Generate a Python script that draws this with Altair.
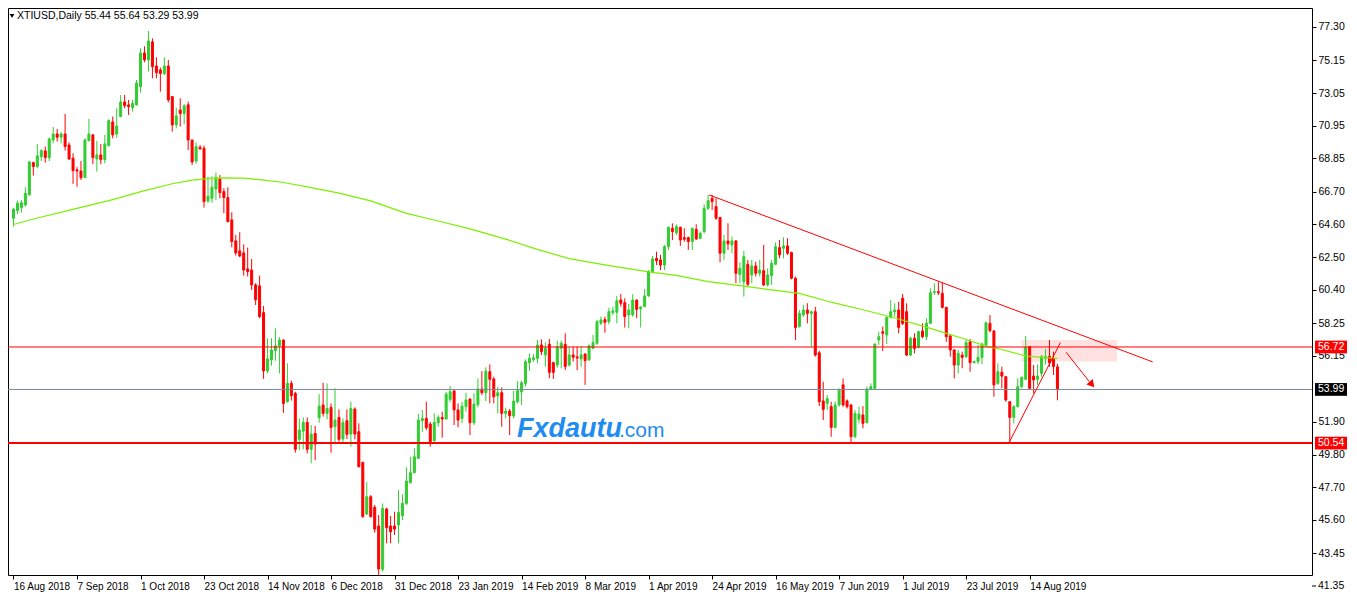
import altair as alt
import pandas as pd

# ---------------- data ----------------
opens = [65.00,65.49,65.68,65.85,66.50,68.58,68.32,68.96,69.33,68.90,70.03,70.42,70.21,70.42,69.71,68.86,68.11,68.04,67.61,69.99,
         70.36,68.81,69.07,68.77,69.67,71.19,70.42,71.54,72.48,72.29,72.11,72.29,73.46,75.63,75.18,76.34,74.79,74.54,74.30,74.79,
         72.82,71.00,71.96,71.73,72.29,70.03,68.68,69.56,69.50,66.11,66.28,66.88,67.53,66.71,66.33,64.89,63.54,62.90,62.77,61.74,
         61.67,60.71,60.65,58.93,55.18,55.89,56.49,56.80,57.17,53.20,54.38,53.74,50.78,51.31,51.87,50.14,51.16,52.17,52.99,52.45,
         52.84,51.59,52.19,50.80,51.98,51.12,52.73,51.27,49.30,45.98,47.09,46.41,45.21,42.42,46.30,45.21,45.21,45.27,45.87,46.66,
         47.99,48.64,49.56,51.98,52.13,51.76,50.69,51.85,52.19,52.09,53.35,53.89,52.67,52.13,52.88,53.37,51.85,53.01,54.02,53.78,
         55.13,54.66,53.57,53.78,52.45,52.60,52.28,53.20,53.84,54.38,55.71,55.92,55.99,56.85,56.21,56.89,55.71,55.56,56.64,56.89,
         55.56,56.21,56.08,55.95,56.27,55.89,56.64,56.96,58.24,58.48,58.35,58.93,58.95,59.74,59.57,58.78,58.78,59.74,59.17,59.32,
         60.00,61.57,62.42,62.32,61.99,63.17,64.35,64.07,64.42,63.75,63.75,63.50,64.29,63.71,64.14,65.64,66.28,65.75,65.04,62.75,
         63.54,63.28,63.54,61.39,60.92,62.04,61.35,61.93,61.46,61.63,60.71,61.31,62.04,63.11,63.07,63.22,62.79,61.14,58.03,58.78,
         59.10,58.88,58.99,56.35,53.25,53.10,52.88,51.55,52.99,54.28,53.25,52.99,50.95,52.07,52.35,51.85,54.02,54.06,57.17,57.70,
         57.49,58.63,58.99,59.10,59.85,58.99,56.20,57.28,56.70,57.75,57.38,58.24,60.23,60.28,60.17,59.27,57.43,56.53,55.56,56.20,
         56.10,57.06,55.71,55.78,56.05,56.85,58.24,57.75,54.38,55.10,54.81,53.20,52.19,52.88,54.17,54.64,56.74,54.85,54.64,55.02,
         56.00,56.12,55.99,55.44]
highs = [65.68,66.13,66.18,66.99,68.68,68.64,69.78,69.43,69.61,70.18,70.87,70.74,70.53,71.71,69.88,69.18,68.28,68.68,70.14,71.38,
         70.42,69.97,69.78,70.36,71.36,71.54,72.07,72.93,72.93,72.61,72.61,73.89,75.93,76.06,77.04,76.57,75.35,74.69,75.35,75.18,
         72.86,72.11,72.71,72.35,72.50,70.05,69.88,69.71,69.67,67.68,67.68,67.93,67.78,66.93,66.99,65.38,63.93,64.10,63.32,63.11,
         62.38,60.82,61.31,59.36,57.28,57.28,57.92,57.34,57.21,55.67,54.55,53.84,52.13,52.19,52.19,51.70,51.64,53.69,54.42,54.38,
         53.09,54.06,52.71,52.13,52.71,53.20,52.84,51.81,49.34,48.03,47.20,46.56,45.91,46.66,46.38,45.85,46.13,47.52,47.24,48.98,
         49.66,50.20,52.41,52.67,53.20,51.91,52.45,52.34,52.56,53.84,54.21,54.02,53.09,53.20,53.78,53.42,53.74,54.70,55.17,55.41,
         55.60,54.81,54.17,54.12,52.82,52.73,53.89,54.53,54.55,55.92,56.31,56.27,57.17,57.21,57.02,57.24,55.78,57.13,57.13,57.60,
         56.74,56.74,56.74,56.79,56.31,56.89,57.49,58.46,58.67,58.67,59.25,59.32,60.00,60.13,59.85,59.49,60.11,59.78,59.35,60.45,
         61.67,62.57,62.85,62.64,63.28,64.46,64.67,64.61,64.45,64.35,63.82,64.40,64.61,64.14,65.90,66.50,66.50,66.28,65.10,63.92,
         64.67,63.82,63.60,62.17,62.90,62.32,62.32,62.21,62.32,63.28,61.78,62.32,63.45,63.60,63.77,63.71,62.85,61.25,59.10,59.42,
         59.53,59.05,59.30,56.48,54.49,53.63,53.20,53.20,54.06,54.70,53.35,53.05,52.67,52.88,52.92,54.17,54.38,56.95,57.70,58.03,
         58.67,59.74,59.53,59.63,60.13,59.53,57.38,57.60,57.77,58.24,58.56,60.49,60.81,60.92,60.88,59.30,57.49,56.56,56.53,56.42,
         57.17,57.23,55.84,56.85,57.00,58.35,58.78,57.81,55.67,55.45,54.85,53.22,52.99,54.70,54.81,57.43,56.78,55.56,55.60,56.20,
         56.60,57.17,56.42,55.64]
lows = [64.46,65.28,65.36,65.75,66.46,67.74,68.21,68.68,68.58,68.68,69.82,69.93,69.82,69.35,68.75,67.21,67.03,67.46,67.61,69.93,
        68.47,68.00,68.47,68.53,69.61,70.14,70.18,71.50,72.07,71.64,71.86,72.25,73.08,75.03,74.43,74.00,74.00,73.14,74.21,72.46,
        70.57,70.78,70.89,71.04,69.39,68.43,68.51,69.41,65.68,66.00,66.00,66.18,66.28,65.32,64.74,63.13,62.60,62.49,61.31,61.25,
        60.39,59.42,58.57,54.67,55.03,55.52,55.84,55.02,52.49,53.14,53.27,49.92,50.09,50.14,49.88,49.24,49.45,51.85,52.24,52.06,
        49.92,50.52,50.63,50.52,50.80,50.31,50.78,48.98,45.74,45.91,45.76,44.78,42.05,42.27,44.09,44.09,44.63,44.09,45.59,46.56,
        47.95,48.59,49.51,51.27,51.38,50.31,50.63,51.59,50.89,52.06,53.16,51.70,51.55,51.81,52.56,51.06,51.70,52.84,53.63,53.24,
        53.09,53.09,52.45,51.59,52.13,51.06,52.13,53.09,52.99,54.17,55.19,55.77,55.67,56.20,55.46,54.71,54.66,55.39,55.35,55.24,
        55.46,55.78,55.24,55.46,54.28,55.82,56.59,56.85,58.14,57.64,58.18,58.78,58.24,59.32,57.97,57.92,58.67,58.57,57.97,59.28,
        59.96,61.52,61.99,61.67,61.67,62.96,63.60,63.92,63.22,63.50,62.96,62.96,63.60,63.67,64.03,65.53,65.53,64.89,62.17,62.32,
        62.96,62.75,60.82,60.82,59.96,60.64,60.82,61.25,61.25,60.64,60.60,60.71,61.99,62.42,62.42,62.64,61.07,57.17,57.97,58.67,
        58.24,56.74,56.10,52.92,52.02,52.67,50.95,51.49,52.88,52.88,52.77,50.57,50.85,51.81,51.49,51.81,53.95,54.02,56.85,56.46,
        56.91,58.56,58.67,57.60,58.13,56.14,56.14,56.31,56.63,57.28,57.17,58.20,60.06,60.06,59.20,57.06,56.10,54.70,55.02,55.35,
        55.99,55.13,55.67,55.63,55.63,56.70,57.66,53.52,54.28,54.06,53.20,50.54,51.81,52.84,54.06,54.60,54.00,53.74,54.28,54.81,
        55.60,55.45,54.92,53.29]
closes = [65.58,65.96,66.00,66.60,68.62,68.32,69.01,69.35,68.90,70.10,70.42,70.21,70.42,69.61,68.81,68.06,68.04,67.61,70.03,70.42,
          68.90,69.07,68.77,69.78,71.28,70.36,70.93,72.48,72.24,72.18,72.39,73.70,75.63,75.18,76.40,74.75,74.36,74.30,74.79,72.61,
          71.00,71.58,71.73,72.22,70.03,68.62,69.61,69.46,66.07,66.41,66.99,67.63,66.65,66.33,64.78,63.50,62.77,62.57,61.67,61.57,
          60.71,59.75,58.67,55.18,55.95,56.53,56.79,57.17,53.09,54.38,53.59,50.14,51.38,51.87,50.14,51.12,50.48,52.92,52.45,52.77,
          51.55,52.02,50.78,51.87,51.10,52.77,51.12,49.02,45.81,47.09,45.81,45.01,42.44,46.34,45.10,44.84,45.01,46.08,46.66,48.10,
          48.64,49.66,52.02,52.13,51.53,50.63,51.87,52.19,52.09,53.69,53.84,52.67,52.02,52.92,53.31,51.85,53.05,54.02,53.78,55.17,
          54.64,53.52,53.78,52.45,52.60,52.30,53.24,53.91,54.42,55.77,55.99,56.03,56.85,56.42,56.64,55.09,55.09,56.74,56.96,55.46,
          56.21,56.06,56.01,56.21,55.84,56.79,57.00,58.35,58.46,58.31,58.99,59.04,59.70,59.53,58.67,59.10,59.74,59.14,59.29,60.00,
          61.57,62.38,62.27,61.99,63.17,64.42,64.14,64.46,63.60,63.65,63.50,64.35,63.67,64.03,65.64,66.13,66.07,65.00,62.75,63.54,
          63.35,63.54,61.46,61.78,62.53,60.75,61.93,61.46,61.67,60.71,61.35,62.10,63.17,62.64,63.22,62.75,61.14,57.97,58.89,59.10,
          58.88,58.99,56.20,53.20,52.71,53.40,51.55,52.99,53.95,52.99,52.88,50.95,52.45,52.41,51.81,54.02,54.17,56.91,57.38,57.60,
          58.63,58.99,59.10,57.98,58.24,56.20,57.28,56.63,57.70,57.38,58.24,60.21,60.28,60.21,59.27,57.38,56.53,55.56,56.31,56.05,
          57.00,55.71,55.78,56.05,56.91,58.28,57.77,54.28,55.13,54.85,53.31,52.19,52.88,54.17,54.77,56.70,54.06,54.60,54.85,56.10,
          56.10,55.70,55.46,53.99]

# moving average line (read at selected bars)
ma_idx = [0, 5, 16, 25, 33, 40, 45, 51, 58, 63, 68, 75, 82, 90, 99, 107, 115, 124, 132, 140, 149, 160, 167,
          175, 184, 191, 198, 206, 215, 223, 231, 240, 245, 248, 255, 259, 263]
ma_val = [64.60, 64.95, 65.63, 66.20, 66.78, 67.22, 67.45, 67.60, 67.58, 67.45, 67.30, 66.97, 66.62, 66.12, 65.31,
          64.82, 64.32, 63.66, 63.00, 62.40, 62.00, 61.55, 61.33, 60.92, 60.64, 60.39, 60.17, 59.60, 59.05, 58.52,
          57.92, 57.20, 56.78, 56.62, 56.14, 56.05, 55.99]

date_ticks = [0, 16, 32, 48, 64, 80, 96, 112, 128, 144, 160, 176, 192, 208, 224, 240, 256]
date_labels = ["16 Aug 2018", "7 Sep 2018", "1 Oct 2018", "23 Oct 2018", "14 Nov 2018", "6 Dec 2018",
               "31 Dec 2018", "23 Jan 2019", "14 Feb 2019", "8 Mar 2019", "1 Apr 2019", "24 Apr 2019",
               "16 May 2019", "7 Jun 2019", "1 Jul 2019", "23 Jul 2019", "14 Aug 2019"]
price_ticks = [77.30, 75.15, 73.05, 70.95, 68.85, 66.70, 64.60, 62.50, 60.40, 58.25, 56.15,
               51.90, 49.80, 47.70, 45.60, 43.45]
bottom_tick = [41.35]

level_prices = [56.72, 53.99, 50.54]
level_labels = ["56.72", "53.99", "50.54"]
level_line_colors = ["#FF0000", "#778899", "#FF0000"]
level_box_colors = ["#FF0000", "#000000", "#FF0000"]
level_widths = [1, 1, 2]

res_idx = [175.25, 287.0]
res_val = [66.50, 55.76]
sup_idx = [250.75, 263.75]
sup_val = [50.54, 57.00]
arrow_idx = [265.2, 271.0]
arrow_val = [56.38, 54.50]
head_idx = [271.5]
head_val = [54.36]
zone_idx = [254.0, 278.0]
zone_val = [55.78, 57.17]

title_text = "XTIUSD,Daily  55.44 55.64 53.29 53.99"

# ---------------- chart ----------------
W, H = 1304, 567
FONT = "Liberation Sans"

candles = pd.DataFrame({"idx": list(range(len(opens))), "open": opens, "high": highs,
                        "low": lows, "close": closes})
candles["col"] = ["#32CD32" if c >= o else "#FF0000" for o, c in zip(opens, closes)]

xs = alt.Scale(domain=[-0.125, 325.875], nice=False, zero=False)
ys = alt.Scale(domain=[78.52 - H / 15.55, 78.52], nice=False, zero=False)

label_js = "[" + ",".join("'%s'" % s for s in date_labels) + "]"
x_axis = alt.Axis(values=date_ticks, labelExpr=label_js + "[round(datum.value/16)]",
                  title=None, grid=False, domain=False, tickSize=4, tickColor="black",
                  labelAlign="left", labelPadding=2, labelFont=FONT, labelFontSize=10,
                  labelColor="black", labelOverlap=False, labelFlush=False, labelBound=False)
y_axis = alt.Axis(values=price_ticks, format=".2f", orient="right", title=None, grid=False,
                  domain=False, tickSize=4, tickColor="black", labelPadding=2, labelFont=FONT,
                  labelFontSize=10.5, labelColor="black", labelOverlap=False, labelFlush=False,
                  labelBound=False)


def X(field):
    return alt.X(field, scale=xs, axis=x_axis)


def Y(field):
    return alt.Y(field, scale=ys, axis=y_axis)


base = alt.Chart(candles)

wicks = base.mark_rule(strokeWidth=1).encode(
    x=X("idx:Q"),
    y=Y("low:Q"),
    y2="high:Q",
    color=alt.Color("col:N", scale=None),
)
bodies = base.mark_bar(size=2, strokeWidth=1).encode(
    x=X("idx:Q"),
    y=Y("open:Q"),
    y2="close:Q",
    fill=alt.Fill("col:N", scale=None),
    stroke=alt.Stroke("col:N", scale=None),
)

zone = alt.Chart(pd.DataFrame({"x1": [zone_idx[0]], "x2": [zone_idx[1]],
                               "p1": [zone_val[0]], "p2": [zone_val[1]]})).mark_rect(
    color="#FFE1E1").encode(x=X("x1:Q"), x2="x2:Q", y=Y("p1:Q"), y2="p2:Q")

ma = alt.Chart(pd.DataFrame({"idx": ma_idx, "v": ma_val})).mark_line(
    color="#7CF000", strokeWidth=1.2).encode(x=X("idx:Q"), y=Y("v:Q"))

levels = pd.DataFrame({"price": level_prices, "label": level_labels, "lc": level_line_colors,
                       "bc": level_box_colors, "w": level_widths})
levels["top"] = levels["price"] + 0.41
levels["bot"] = levels["price"] - 0.41
lv = alt.Chart(levels)
hlines = lv.mark_rule().encode(y=Y("price:Q"),
                               color=alt.Color("lc:N", scale=None),
                               strokeWidth=alt.StrokeWidth("w:Q", scale=None))
boxes = lv.mark_rect(clip=False).encode(x=alt.value(W + 3), x2=alt.value(W + 35),
                                        y=Y("top:Q"), y2="bot:Q",
                                        fill=alt.Fill("bc:N", scale=None))
box_text = lv.mark_text(clip=False, align="left", baseline="middle", color="white",
                        font=FONT, fontSize=10.5).encode(
    x=alt.value(W + 6), y=Y("price:Q"), text="label:N")

# lowest price label sits just under the frame, as in the reference
bt = alt.Chart(pd.DataFrame({"p": bottom_tick, "s": ["%.2f" % v for v in bottom_tick]}))
bottom_lbl = bt.mark_text(clip=False, align="left", baseline="middle", color="black",
                          font=FONT, fontSize=10.5).encode(
    x=alt.value(W + 6), y=Y("p:Q"), text="s:N")
bottom_tk = bt.mark_rule(clip=False, color="black", strokeWidth=1).encode(
    x=alt.value(W), x2=alt.value(W + 4), y=Y("p:Q"))


def seg(ix, vals):
    return alt.Chart(pd.DataFrame({"idx": ix, "v": vals})).mark_line(
        color="#FF0000", strokeWidth=1).encode(x=X("idx:Q"), y=Y("v:Q"))


res_line = seg(res_idx, res_val)
sup_line = seg(sup_idx, sup_val)
arrow_line = seg(arrow_idx, arrow_val)
arrow_head = alt.Chart(pd.DataFrame({"idx": head_idx, "v": head_val})).mark_point(
    shape="triangle", filled=True, size=70, angle=139, color="#FF0000", opacity=1).encode(
    x=X("idx:Q"), y=Y("v:Q"))

txt = pd.DataFrame({"t": [title_text]})
title_mark = alt.Chart(txt).mark_text(align="left", baseline="middle", font=FONT,
                                      fontSize=10.5, color="black").encode(
    x=alt.value(9), y=alt.value(8), text="t:N")
title_tri = alt.Chart(txt).mark_point(shape="triangle-down", filled=True, size=22,
                                      color="black", opacity=1).encode(
    x=alt.value(4), y=alt.value(8))

wm = pd.DataFrame({"a": ["Fxdautu"], "b": [".com"]})
wm1 = alt.Chart(wm).mark_text(align="left", baseline="alphabetic", font=FONT, fontSize=27,
                              fontWeight="bold", fontStyle="italic", color="#1E8CF0").encode(
    x=alt.value(509), y=alt.value(429), text="a:N")
wm2 = alt.Chart(wm).mark_text(align="left", baseline="alphabetic", font=FONT, fontSize=21,
                              color="#1E8CF0").encode(
    x=alt.value(611), y=alt.value(429), text="b:N")

chart = alt.layer(
    zone, wicks, bodies, ma, hlines, res_line, sup_line, arrow_line, arrow_head,
    boxes, box_text, bottom_tk, bottom_lbl, wm1, wm2, title_tri, title_mark
).properties(
    width=W, height=H, background="white",
    autosize=alt.AutoSizeParams(type="none"),
    padding={"left": 0, "top": 0, "right": 37, "bottom": 18},
).configure_view(
    stroke="black", strokeWidth=1
).configure_axis(labelOverlap=False)

chart.save("out.html", embed_options={"renderer": "svg", "actions": False})
